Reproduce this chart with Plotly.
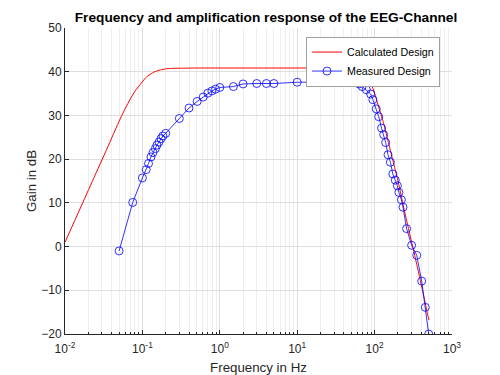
import plotly.graph_objects as go

# Calculated design
calc_freq = [0.01, 0.0156, 0.0233, 0.0347, 0.0516, 0.0605, 0.0695, 0.08, 0.094, 0.11, 0.126,
             0.145, 0.17, 0.2, 0.23, 0.31, 0.5,
             1.0, 10.0, 40.0, 50.0, 58.0, 65.0, 70.6, 76.0, 82.0, 88.0, 95.0, 102.0, 110.0,
             128.0, 149.0, 172.0, 200.0, 232.0, 270.0, 313.0, 360.0, 400.0, 450.0, 490.0, 505.0]
calc_gain = [1.0, 8.6, 15.5, 22.3, 29.2, 31.7, 33.7, 35.5, 37.1, 38.6, 39.4,
             40.0, 40.4, 40.65, 40.75, 40.8, 40.85,
             40.85, 40.85, 40.85, 40.8, 40.65, 40.45, 40.15, 39.6, 38.7, 37.6, 36.2, 34.6, 32.6,
             28.8, 24.2, 19.7, 15.1, 9.8, 4.6, -0.3, -5.0, -8.6, -12.8, -16.0, -16.8]

# Measured design
meas_freq = [0.05, 0.075, 0.1, 0.112, 0.12, 0.129, 0.137, 0.147, 0.154, 0.164, 0.174, 0.184, 0.2,
             0.3, 0.4, 0.51, 0.61, 0.7, 0.79, 0.88, 1.0, 1.5, 2.0, 3.0, 4.0, 5.0,
             10.0, 15.0, 25.0, 35.0, 45.0, 55.0, 63.0, 69.0, 78.0, 89.0, 95.0, 105.0,
             113.0, 123.0, 131.0, 139.0, 149.0, 160.0, 172.0, 185.0, 197.0, 206.0, 222.0,
             233.0, 259.0, 301.0, 350.0, 406.0, 452.0, 500.0]
meas_gain = [-1.0, 10.1, 15.7, 17.6, 19.0, 20.5, 21.5, 22.4, 23.2, 23.9, 24.7, 25.3, 25.9,
             29.3, 31.7, 33.2, 34.2, 35.1, 35.6, 36.0, 36.4, 36.6, 37.2, 37.3, 37.3, 37.3,
             37.6, 37.6, 37.6, 37.6, 37.6, 37.6, 37.2, 36.6, 35.9, 34.9, 33.6, 31.5,
             29.7, 27.1, 25.6, 23.8, 21.0, 19.3, 16.6, 15.2, 13.9, 12.4, 10.7,
             9.0, 4.1, 0.3, -2.0, -7.9, -13.9, -20.0]

x_tickvals = [0.01, 0.1, 1, 10, 100, 1000]
x_ticktext = ["10<sup>-2</sup>", "10<sup>-1</sup>", "10<sup>0</sup>",
              "10<sup>1</sup>", "10<sup>2</sup>", "10<sup>3</sup>"]
y_tickvals = [-20, -10, 0, 10, 20, 30, 40, 50]

FONT = "Liberation Sans, Arial, sans-serif"
AX = "#262626"

fig = go.Figure()
fig.add_trace(go.Scatter(
    x=calc_freq, y=calc_gain, mode="lines", name="Calculated Design",
    line=dict(color="#ff0000", width=1, shape="spline", smoothing=0.6),
))
fig.add_trace(go.Scatter(
    x=meas_freq, y=meas_gain, mode="lines+markers", name="Measured Design",
    line=dict(color="#0000ff", width=0.8),
    marker=dict(symbol="circle-open", size=8, color="#0000ff", line=dict(width=0.8)),
))

fig.update_layout(
    width=500, height=375,
    margin=dict(l=57, r=56, t=20, b=49),
    paper_bgcolor="white", plot_bgcolor="white",
    font=dict(family=FONT, size=12, color=AX),
    title=dict(text="<b>Frequency and amplification response of the EEG-Channel</b>",
               x=0.516, xanchor="center", y=0.975, yanchor="middle",
               font=dict(family=FONT, size=13.7, color="black")),
    showlegend=True,
    legend=dict(x=0.969, y=0.972, xanchor="right", yanchor="top",
                bgcolor="white", bordercolor="#a0a0a0", borderwidth=1,
                font=dict(family=FONT, size=10.7, color="black"),
                tracegroupgap=0, itemwidth=30),
)

fig.update_xaxes(
    type="log", range=[-2, 3], automargin=False,
    tickvals=x_tickvals, ticktext=x_ticktext,
    showgrid=True, gridcolor="#dedede", gridwidth=1,
    ticks="inside", ticklen=4, tickcolor=AX,
    showline=True, linecolor=AX, linewidth=1,
    zeroline=False, ticklabelstandoff=4,
    tickfont=dict(family=FONT, size=12, color=AX),
    title=dict(text="Frequency in Hz", font=dict(family=FONT, size=13.3, color=AX), standoff=7),
    minor=dict(dtick="D1", showgrid=True, gridcolor="#eeeeee", gridwidth=1,
               ticks="inside", ticklen=2, tickcolor=AX),
)
fig.update_yaxes(
    range=[-20, 50], tickvals=y_tickvals, automargin=False,
    showgrid=True, gridcolor="#dedede", gridwidth=1,
    ticks="inside", ticklen=4, tickcolor=AX,
    showline=True, linecolor=AX, linewidth=1,
    zeroline=False,
    tickfont=dict(family=FONT, size=12, color=AX),
    title=dict(text="Gain in dB", font=dict(family=FONT, size=13.3, color=AX), standoff=1),
)

fig.write_html("out.html")
